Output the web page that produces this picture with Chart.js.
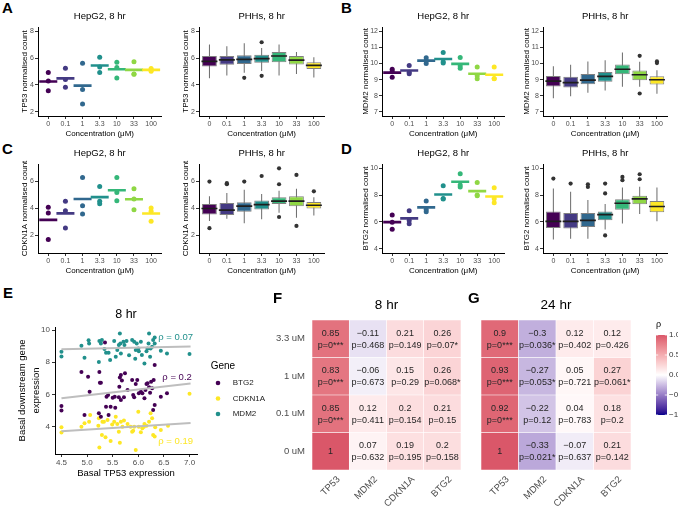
<!DOCTYPE html>
<html><head><meta charset="utf-8">
<script src="https://cdn.jsdelivr.net/npm/chart.js@4.4.1/dist/chart.umd.min.js"></script>
<style>
html,body{margin:0;padding:0;background:#fff;}
#wrap{position:relative;width:678px;height:509px;overflow:hidden;background:#fff;font-family:'Liberation Sans',Arial,Helvetica,sans-serif;}
canvas{position:absolute;}
.lab{position:absolute;font-weight:bold;font-size:15px;line-height:15px;color:#000;z-index:5;}
</style></head><body>
<div id="wrap">
<div class="lab" style="left:2px;top:0px">A</div>
<div class="lab" style="left:341px;top:0px">B</div>
<div class="lab" style="left:2px;top:141px">C</div>
<div class="lab" style="left:341px;top:141px">D</div>
<div class="lab" style="left:3px;top:285px">E</div>
<div class="lab" style="left:273px;top:290px">F</div>
<div class="lab" style="left:468px;top:290px">G</div>
</div>
<script>
// ---------------- DATA ----------------
const conc = ['0','0.1','1','3.3','10','33','100'];
const viridis7 = ['#440154','#443A83','#31688E','#21908C','#35B779','#8FD744','#FDE725'];

// HepG2 replicate points (highest / middle / lowest per concentration) and means
const tp53HepHi  = [4.92, 5.24, 5.61, 6.05, 5.68, 5.73, 5.22];
const tp53HepMid = [4.30, 4.40, 3.66, 5.34, 5.30, 4.82, 5.12];
const tp53HepLo  = [3.57, 3.83, 2.59, 4.93, 4.51, 4.80, 5.02];
const tp53HepMean= [4.26, 4.49, 3.95, 5.44, 5.17, 5.12, 5.12];

const mdm2HepHi  = [9.64, 9.87, 10.35, 10.68, 10.37, 9.78, 9.78];
const mdm2HepMid = [9.50, 9.45, 10.16, 10.10, 9.84, 9.23, 9.07];
const mdm2HepLo  = [9.15, 9.36, 10.00, 10.03, 9.70, 9.05, 9.05];
const mdm2HepMean= [9.43, 9.56, 10.17, 10.27, 9.97, 9.36, 9.30];

const cdknHepHi  = [4.09, 4.53, 6.29, 5.63, 6.29, 5.46, 4.04];
const cdknHepMid = [3.67, 3.84, 4.20, 4.53, 5.19, 4.70, 3.80];
const cdknHepLo  = [1.71, 2.56, 3.60, 4.36, 4.58, 3.91, 3.05];
const cdknHepMean= [3.16, 3.64, 4.70, 4.84, 5.35, 4.69, 3.63];

const btgHepHi   = [6.52, 6.84, 7.55, 8.68, 9.58, 8.92, 8.53];
const btgHepMid  = [5.98, 6.11, 6.93, 7.74, 8.75, 8.00, 7.72];
const btgHepLo   = [5.47, 5.86, 6.76, 7.70, 8.60, 7.95, 7.42];
const btgHepMean = [5.99, 6.27, 7.08, 8.04, 8.98, 8.29, 7.89];

// PHHs box statistics
const tp53PhhLo  = [4.50, 4.70, 4.90, 5.03, 4.70, 4.82, 4.55];
const tp53PhhQ1  = [5.38, 5.50, 5.55, 5.64, 5.69, 5.52, 5.18];
const tp53PhhMed = [5.75, 5.86, 5.90, 5.95, 6.15, 5.85, 5.45];
const tp53PhhQ3  = [6.15, 6.15, 6.20, 6.25, 6.45, 6.15, 5.69];
const tp53PhhHi  = [7.00, 6.88, 7.10, 6.75, 7.00, 6.45, 6.06];
const tp53PhhOut = [[], [], [4.53], [7.17, 4.68], [], [], []];

const mdm2PhhLo  = [7.85, 7.97, 8.18, 8.32, 8.55, 8.55, 8.12];
const mdm2PhhQ1  = [8.57, 8.51, 8.71, 8.87, 9.33, 8.96, 8.70];
const mdm2PhhMed = [8.90, 8.81, 8.97, 9.20, 9.64, 9.30, 8.99];
const mdm2PhhQ3  = [9.22, 9.18, 9.35, 9.47, 9.94, 9.56, 9.20];
const mdm2PhhHi  = [9.83, 9.92, 10.12, 10.20, 10.68, 10.10, 9.57];
const mdm2PhhOut = [[], [], [], [], [], [10.47, 8.14], [10.12, 10.02]];

const cdknPhhLo  = [3.07, 3.24, 2.90, 3.20, 3.68, 3.32, 3.49];
const cdknPhhQ1  = [3.56, 3.51, 3.76, 3.93, 4.34, 4.17, 4.00];
const cdknPhhMed = [4.00, 3.88, 4.17, 4.29, 4.54, 4.54, 4.24];
const cdknPhhQ3  = [4.34, 4.41, 4.46, 4.59, 4.83, 4.90, 4.49];
const cdknPhhHi  = [4.90, 5.15, 5.39, 5.07, 5.32, 5.46, 4.83];
const cdknPhhOut = [[6.00, 2.54], [5.88, 5.80], [6.00], [6.41], [6.98, 5.80, 3.37], [6.49, 2.71], [5.27]];

const btgPhhLo   = [4.71, 4.76, 4.76, 5.44, 5.88, 6.59, 6.05];
const btgPhhQ1   = [5.56, 5.51, 5.63, 6.12, 6.90, 7.32, 6.73];
const btgPhhMed  = [6.05, 6.05, 6.12, 6.54, 7.39, 7.71, 7.15];
const btgPhhQ3   = [6.78, 6.66, 6.66, 6.78, 7.68, 7.95, 7.56];
const btgPhhHi   = [8.49, 8.24, 7.63, 7.34, 8.56, 8.61, 8.56];
const btgPhhOut  = [[9.22], [8.85], [8.80, 8.60], [8.85, 8.12, 5.00], [9.34, 9.10], [9.54, 9.17], []];

// Panel E scatter
const btg2X = [4.50,4.50,4.89,5.02,5.05,4.95,5.24,5.25,5.27,5.23,5.35,5.38,5.41,5.37,5.46,5.55,5.50,5.54,5.63,5.64,5.66,5.68,5.74,5.72,5.62,5.66,5.79,5.88,5.90,5.92,5.95,5.98,6.05,6.08,6.12,6.14,6.18,6.25,6.27,6.30,6.29,6.32,6.32,6.44,6.56,6.16,6.21,6.23,6.01,5.27,5.42];
const btg2Y = [5.28,5.00,7.39,7.10,6.17,4.72,7.39,6.73,6.73,4.83,9.23,5.86,5.97,5.24,5.24,5.18,5.80,5.86,6.48,7.06,7.21,6.86,7.31,5.82,5.82,5.66,6.28,6.90,5.97,5.82,6.65,6.90,6.17,6.07,5.76,6.28,6.69,6.79,6.38,6.90,5.03,5.34,7.83,5.86,6.07,6.65,6.44,6.10,6.07,4.62,4.72];
const cdknX = [4.50,4.50,4.89,4.95,5.04,5.06,5.23,5.22,5.24,5.29,5.36,5.33,5.40,5.46,5.53,5.56,5.59,5.64,5.66,5.69,5.72,5.79,5.85,5.90,5.95,6.00,6.01,6.05,6.08,6.12,6.16,6.21,6.24,6.27,6.29,6.32,6.33,6.44,6.58,7.00,5.92,5.88,6.11,5.62,5.49,5.30];
const cdknY = [3.96,3.63,4.00,4.21,4.31,4.72,4.52,4.06,2.70,3.48,3.34,4.31,4.41,3.10,4.31,4.62,4.17,3.00,4.31,4.00,4.38,4.17,4.00,3.75,2.55,4.93,4.00,3.65,3.90,4.17,4.06,4.31,4.83,4.52,3.48,3.38,3.96,3.79,4.06,6.05,4.00,3.69,4.00,3.69,4.14,4.31];
const mdm2X = [4.50,4.50,4.89,4.95,5.03,5.04,5.23,5.24,5.29,5.27,5.34,5.37,5.42,5.45,5.53,5.56,5.59,5.62,5.64,5.65,5.66,5.71,5.73,5.77,5.82,5.88,5.92,5.94,5.97,6.00,6.01,6.05,6.07,6.12,6.16,6.20,6.21,6.24,6.27,6.29,6.32,6.32,6.44,6.56,7.00,5.95,6.18,6.23];
const mdm2Y = [8.65,8.35,9.03,8.28,9.36,9.17,8.01,9.32,9.38,9.17,8.82,8.59,8.59,8.14,9.32,8.34,8.76,9.07,9.79,9.17,8.55,9.28,9.07,9.32,8.43,9.38,9.28,8.22,9.17,8.86,8.68,9.28,8.45,7.93,8.68,9.17,9.79,8.86,8.97,9.38,9.17,9.54,8.72,8.55,8.51,8.76,8.86,8.34];
const fitX    = [4.50, 7.02];
const btg2Fit = [5.76, 6.68];
const cdknFit = [3.72, 4.22];
const mdm2Fit = [8.80, 8.98];
const rhoText = ['\u03C1 = 0.2', '\u03C1 = 0.19', '\u03C1 = 0.07'];
const rhoTextX = [6.47, 6.39, 6.39];
const rhoTextY = [7.05, 3.07, 9.57];

// Panels F and G heatmaps (rows bottom -> top)
const genes = ['TP53','MDM2','CDKN1A','BTG2'];
const doses = ['0 uM','0.1 uM','1 uM','3.3 uM'];
const rho8h  = [[1, 0.07, 0.19, 0.2], [0.85, 0.12, 0.2, 0.21], [0.83, -0.06, 0.15, 0.26], [0.85, -0.11, 0.21, 0.26]];
const p8h    = [['', '0.632', '0.195', '0.158'], ['0***', '0.411', '0.154', '0.15'], ['0***', '0.673', '0.29', '0.068*'], ['0***', '0.468', '0.149', '0.07*']];
const rho24h = [[1, -0.33, -0.07, 0.21], [0.92, -0.22, 0.04, 0.18], [0.93, -0.27, 0.05, 0.27], [0.9, -0.3, 0.12, 0.12]];
const p24h   = [['', '0.021*', '0.637', '0.142'], ['0***', '0.12', '0.783', '0.2'], ['0***', '0.053*', '0.721', '0.061*'], ['0***', '0.036*', '0.402', '0.426']];
const cbTicks = [1.0, 0.5, 0.0, -0.5, -1.0];

// ---------------- STYLE / HELPERS ----------------
const FONT = "'Liberation Sans', Arial, Helvetica, sans-serif";
Chart.defaults.font.family = FONT;
const wrap = document.getElementById('wrap');
function mkCanvas(x, y, w, h) {
  const c = document.createElement('canvas');
  c.width = w; c.height = h;
  c.style.left = x + 'px'; c.style.top = y + 'px';
  c.style.width = w + 'px'; c.style.height = h + 'px';
  wrap.appendChild(c);
  return c;
}
const minus = s => s.replace('-', '\u2212');

// colour scale (Lab interpolation through white)
function hexRgb(h){ h=h.replace('#',''); return [0,2,4].map(i=>parseInt(h.substr(i,2),16)); }
function s2l(c){ c/=255; return c<=0.04045 ? c/12.92 : Math.pow((c+0.055)/1.055,2.4); }
function l2s(c){ c = c<=0.0031308 ? 12.92*c : 1.055*Math.pow(c,1/2.4)-0.055; return Math.round(Math.max(0,Math.min(1,c))*255); }
function toLab(rgb){ const [R,G,B]=rgb.map(s2l);
  const X=(0.4124*R+0.3576*G+0.1805*B)/0.95047, Y=0.2126*R+0.7152*G+0.0722*B, Z=(0.0193*R+0.1192*G+0.9505*B)/1.08883;
  const f=t=> t>0.008856 ? Math.cbrt(t) : 7.787*t+16/116;
  const fx=f(X), fy=f(Y), fz=f(Z); return [116*fy-16, 500*(fx-fy), 200*(fy-fz)]; }
function fromLab([L,a,b]){ const fy=(L+16)/116, fx=fy+a/500, fz=fy-b/200;
  const fi=t=> t*t*t>0.008856 ? t*t*t : (t-16/116)/7.787;
  const X=fi(fx)*0.95047, Y=fi(fy), Z=fi(fz)*1.08883;
  return [l2s(3.2406*X-1.5372*Y-0.4986*Z), l2s(-0.9689*X+1.8758*Y+0.0415*Z), l2s(0.0557*X-0.2040*Y+1.0570*Z)]; }
const LAB_W = toLab([255,255,255]), LAB_HI = toLab(hexRgb('#DA5769')), LAB_LO = toLab(hexRgb('#00008B'));
function rhoColor(v){ const t=Math.min(1,Math.abs(v)); const e = v>=0 ? LAB_HI : LAB_LO;
  const c = fromLab(LAB_W.map((w,i)=>w+(e[i]-w)*t)); return `rgb(${c[0]},${c[1]},${c[2]})`; }

const xy = a => a.map((y,i)=>({x:i, y}));

// ---------------- ROW PANELS (A-D) ----------------
function rowChart(o) {
  const cL = o.plotL - o.yw, cT = o.rowTop, cR = o.plotR, cB = o.rowTop + 134;
  const cv = mkCanvas(cL, cT, cR - cL, cB - cT);
  new Chart(cv, {
    type: o.type,
    data: { datasets: o.datasets },
    options: {
      responsive:false, animation:false, events:[],
      layout:{ padding:0 },
      plugins:{ legend:{display:false}, tooltip:{enabled:false},
        title:{ display:true, text:o.title, fullSize:false, color:'#000', font:{size:9.5, weight:'normal'}, padding:{top:5.8, bottom:4.8} } },
      scales:{
        x:{ type:'linear', min:-0.6, max:6.6, offset:false,
            afterBuildTicks: s => { s.ticks = conc.map((_,i)=>({value:i})); },
            ticks:{ callback: v => conc[v], font:{size:7}, color:'#4D4D4D', padding:1.3, maxRotation:0, autoSkip:false },
            grid:{ display:true, drawOnChartArea:false, drawTicks:true, tickLength:3, color:'#333', offset:false },
            border:{ display:true, color:'#000', width:1 },
            title:{ display:true, text:'Concentration (\u03BCM)', font:{size:8}, color:'#000', padding:0 },
            afterFit: s => { s.height = 23; } },
        y:{ type:'linear', min:o.yMin, max:o.yMax,
            afterBuildTicks: s => { s.ticks = o.yTicks.map(v=>({value:v})); },
            ticks:{ font:{size:7}, color:'#4D4D4D', padding:1 },
            grid:{ display:true, drawOnChartArea:false, drawTicks:true, tickLength:3, color:'#333' },
            border:{ display:true, color:'#000', width:1 },
            title:{ display:true, text:o.yTitle, font:{size:8}, color:'#000', padding:{top:2.2, bottom:0} },
            afterFit: s => { s.width = o.yw; } }
      }
    }
  });
}
function hepSets(hi, mid, lo, mean) {
  const pt = a => ({ data: xy(a), pointRadius:2.5, backgroundColor:viridis7, pointBackgroundColor:viridis7, pointBorderWidth:0 });
  return [
    { data: xy(mean), pointStyle:'line', pointRadius:9, borderColor:viridis7, pointBorderColor:viridis7, pointBorderWidth:2.6 },
    pt(hi), pt(mid), pt(lo)
  ];
}
function boxSets(lo, q1, med, q3, hi, out) {
  return [
    { type:'scatter', order:0, data: out.flatMap((a,i)=>a.map(v=>({x:i, y:v}))), pointRadius:2.1, backgroundColor:'#333', pointBackgroundColor:'#333', pointBorderWidth:0 },
    { type:'scatter', order:1, data: xy(med), pointStyle:'line', pointRadius:8, borderColor:'#1e1e1e', pointBorderColor:'#1e1e1e', pointBorderWidth:1.7 },
    { type:'bar', order:2, data: q1.map((v,i)=>({x:i, y:[v, q3[i]]})), backgroundColor:viridis7, borderColor:'#808080', borderWidth:1, borderSkipped:false, barPercentage:0.85, categoryPercentage:1, grouped:false },
    { type:'bar', order:3, data: lo.map((v,i)=>({x:i, y:[v, hi[i]]})), backgroundColor:'#6a6a6a', borderWidth:0, maxBarThickness:1, grouped:false }
  ];
}

rowChart({ type:'scatter', plotL:38, plotR:173, yw:20, rowTop:5, title:'HepG2, 8 hr', yTitle:'TP53 normalised count', yMin:1.7, yMax:8.3, yTicks:[2,4,6,8], datasets: hepSets(tp53HepHi, tp53HepMid, tp53HepLo, tp53HepMean) });
rowChart({ type:'bar', plotL:199, plotR:334, yw:20, rowTop:5, title:'PHHs, 8 hr', yTitle:'TP53 normalised count', yMin:1.7, yMax:8.3, yTicks:[2,4,6,8], datasets: boxSets(tp53PhhLo, tp53PhhQ1, tp53PhhMed, tp53PhhQ3, tp53PhhHi, tp53PhhOut) });
rowChart({ type:'scatter', plotL:382, plotR:516, yw:23, rowTop:5, title:'HepG2, 8 hr', yTitle:'MDM2 normalised count', yMin:6.75, yMax:12.25, yTicks:[7,8,9,10,11,12], datasets: hepSets(mdm2HepHi, mdm2HepMid, mdm2HepLo, mdm2HepMean) });
rowChart({ type:'bar', plotL:543, plotR:677, yw:23, rowTop:5, title:'PHHs, 8 hr', yTitle:'MDM2 normalised count', yMin:6.75, yMax:12.25, yTicks:[7,8,9,10,11,12], datasets: boxSets(mdm2PhhLo, mdm2PhhQ1, mdm2PhhMed, mdm2PhhQ3, mdm2PhhHi, mdm2PhhOut) });
rowChart({ type:'scatter', plotL:38, plotR:173, yw:20, rowTop:142, title:'HepG2, 8 hr', yTitle:'CDKN1A normalised count', yMin:0.7, yMax:7.3, yTicks:[2,4,6], datasets: hepSets(cdknHepHi, cdknHepMid, cdknHepLo, cdknHepMean) });
rowChart({ type:'bar', plotL:199, plotR:334, yw:20, rowTop:142, title:'PHHs, 8 hr', yTitle:'CDKN1A normalised count', yMin:0.7, yMax:7.3, yTicks:[2,4,6], datasets: boxSets(cdknPhhLo, cdknPhhQ1, cdknPhhMed, cdknPhhQ3, cdknPhhHi, cdknPhhOut) });
rowChart({ type:'scatter', plotL:382, plotR:516, yw:23, rowTop:142, title:'HepG2, 8 hr', yTitle:'BTG2 normalised count', yMin:3.7, yMax:10.3, yTicks:[4,6,8,10], datasets: hepSets(btgHepHi, btgHepMid, btgHepLo, btgHepMean) });
rowChart({ type:'bar', plotL:543, plotR:677, yw:23, rowTop:142, title:'PHHs, 8 hr', yTitle:'BTG2 normalised count', yMin:3.7, yMax:10.3, yTicks:[4,6,8,10], datasets: boxSets(btgPhhLo, btgPhhQ1, btgPhhMed, btgPhhQ3, btgPhhHi, btgPhhOut) });

// ---------------- PANEL E ----------------
const geneLegend = { id:'geneLegend', afterDraw(chart, args, o) {
  const ctx = chart.ctx; ctx.save();
  ctx.textBaseline = 'middle'; ctx.textAlign = 'left';
  ctx.fillStyle = '#000'; ctx.font = `10px ${FONT}`;
  ctx.fillText('Gene', o.x, o.y);
  chart.data.datasets.filter(d => d.gene).forEach((d, i) => {
    const y = o.y + o.y0 + i * o.dy;
    ctx.beginPath(); ctx.arc(o.x + o.dotX, y, 2.3, 0, 2 * Math.PI);
    ctx.fillStyle = d.backgroundColor; ctx.fill();
    ctx.fillStyle = '#1a1a1a'; ctx.font = `8px ${FONT}`;
    ctx.fillText(d.label, o.x + o.textX, y);
  });
  ctx.restore();
}};
const rhoLabels = { id:'rhoLabels', afterDatasetsDraw(chart) {
  const ctx = chart.ctx, sx = chart.scales.x, sy = chart.scales.y;
  const genesDs = chart.data.datasets.filter(d => d.gene);
  ctx.save(); ctx.font = `9.5px ${FONT}`; ctx.textBaseline = 'middle'; ctx.textAlign = 'left';
  rhoText.forEach((t, i) => { ctx.fillStyle = genesDs[i].backgroundColor;
    ctx.fillText(t, sx.getPixelForValue(rhoTextX[i]), sy.getPixelForValue(rhoTextY[i])); });
  ctx.restore();
}};
{
  const cv = mkCanvas(15, 300, 255, 179);
  const pts = (X, Y) => X.map((x,i)=>({x, y:Y[i]}));
  const fit = Y => fitX.map((x,i)=>({x, y:Y[i]}));
  const lineDs = Y => ({ data: fit(Y), showLine:true, borderColor:'#BEBEBE', borderWidth:2, pointRadius:0, order:0 });
  new Chart(cv, {
    type:'scatter',
    data:{ datasets:[
      { label:'BTG2', gene:true, data: pts(btg2X, btg2Y), backgroundColor:'#440154', pointRadius:2, pointBorderWidth:0, order:1 },
      { label:'CDKN1A', gene:true, data: pts(cdknX, cdknY), backgroundColor:'#FDE725', pointRadius:2, pointBorderWidth:0, order:1 },
      { label:'MDM2', gene:true, data: pts(mdm2X, mdm2Y), backgroundColor:'#21908C', pointRadius:2, pointBorderWidth:0, order:1 },
      lineDs(btg2Fit), lineDs(cdknFit), lineDs(mdm2Fit)
    ]},
    options:{
      responsive:false, animation:false, events:[],
      layout:{ padding:{ left:0, top:0, bottom:0, right:73 } },
      plugins:{ legend:{display:false}, tooltip:{enabled:false},
        title:{ display:true, text:'8 hr', fullSize:false, color:'#000', font:{size:12.5, weight:'normal'}, padding:{top:7.5, bottom:4.5} },
        geneLegend:{ x:195.7, y:66, y0:17, dy:15.5, dotX:7.3, textX:22 } },
      scales:{
        x:{ type:'linear', min:4.374, max:7.146,
            afterBuildTicks: s => { s.ticks = [4.5,5.0,5.5,6.0,6.5,7.0].map(v=>({value:v})); },
            ticks:{ callback: v => v.toFixed(1), font:{size:8}, color:'#4D4D4D', padding:1, maxRotation:0 },
            grid:{ display:true, drawOnChartArea:false, drawTicks:true, tickLength:3, color:'#333' },
            border:{ display:true, color:'#000', width:1 },
            title:{ display:true, text:'Basal TP53 expression', font:{size:9.5}, color:'#000', padding:0 },
            afterFit: s => { s.height = 25; } },
        y:{ type:'linear', min:2.3, max:10.19,
            afterBuildTicks: s => { s.ticks = [4,6,8,10].map(v=>({value:v})); },
            ticks:{ font:{size:8}, color:'#4D4D4D', padding:2 },
            grid:{ display:true, drawOnChartArea:false, drawTicks:true, tickLength:3, color:'#333' },
            border:{ display:true, color:'#000', width:1 },
            title:{ display:true, text:['Basal downstream gene','expression'], font:{size:9.5, lineHeight:1.4}, color:'#000', padding:{top:1.05, bottom:0} },
            afterFit: s => { s.width = 40; } }
      }
    },
    plugins:[geneLegend, rhoLabels]
  });
}

// ---------------- PANELS F, G ----------------
const cellText = { id:'cellText', afterDatasetsDraw(chart) {
  const ctx = chart.ctx; ctx.save();
  ctx.font = `9px ${FONT}`; ctx.fillStyle = '#262626'; ctx.textAlign = 'center'; ctx.textBaseline = 'middle';
  chart.data.datasets.forEach((ds, di) => {
    chart.getDatasetMeta(di).data.forEach((el, i) => {
      const cx = el.x, cy = (el.y + el.base) / 2;
      const r = ds.rho[i], p = ds.p[i];
      const rt = minus(String(r));
      if (p) { ctx.fillText(rt, cx, cy - 5.5); ctx.fillText('p=' + p, cx, cy + 6.5); }
      else ctx.fillText(rt, cx, cy);
    });
  });
  ctx.restore();
}};
const colorBar = { id:'colorBar', afterDraw(chart, args, o) {
  if (!o.show) return;
  const ctx = chart.ctx; ctx.save();
  const g = ctx.createLinearGradient(0, o.y1, 0, o.y0);
  for (let k = 0; k <= 40; k++) { const v = -1 + k * 0.05; g.addColorStop(k / 40, rhoColor(v)); }
  ctx.fillStyle = g; ctx.fillRect(o.x, o.y0, o.w, o.y1 - o.y0);
  ctx.font = `8px ${FONT}`; ctx.textAlign = 'left'; ctx.textBaseline = 'middle';
  cbTicks.forEach(v => {
    const y = o.y1 - (v + 1) / 2 * (o.y1 - o.y0);
    ctx.strokeStyle = '#fff'; ctx.lineWidth = 0.8;
    ctx.beginPath(); ctx.moveTo(o.x, y); ctx.lineTo(o.x + 2.2, y); ctx.moveTo(o.x + o.w - 2.2, y); ctx.lineTo(o.x + o.w, y); ctx.stroke();
    ctx.fillStyle = '#333'; ctx.fillText(minus(v.toFixed(1)), o.x + o.w + 2, y);
  });
  ctx.fillStyle = '#000'; ctx.font = `9px ${FONT}`;
  ctx.fillText('\u03C1', o.x, o.y0 - 10);
  ctx.restore();
}};
function heatChart(o) {
  const cv = mkCanvas(o.cL, 290, o.cW, 219);
  new Chart(cv, {
    type:'bar',
    data:{ labels: genes, datasets: doses.map((d, r) => ({
      label:d, rho:o.rho[r], p:o.p[r], data: o.rho[r].map(() => 1),
      backgroundColor: o.rho[r].map(rhoColor), borderColor:'rgba(255,255,255,0.75)', borderWidth:0.6, borderSkipped:false,
      barPercentage:1, categoryPercentage:1 })) },
    options:{
      responsive:false, animation:false, events:[],
      layout:{ padding:{ left:0, top:0, bottom:0, right:o.padR } },
      plugins:{ legend:{display:false}, tooltip:{enabled:false},
        title:{ display:true, text:o.title, fullSize:false, color:'#000', font:{size:13.5, weight:'normal'}, padding:{top:6.9, bottom:6.9} },
        colorBar:{ show:!!o.cb, x:206, w:11, y0:45, y1:125 } },
      scales:{
        x:{ type:'category', stacked:true, offset:true,
            ticks:{ font:{size:9.5}, color:'#4D4D4D', minRotation:45, maxRotation:45, padding:4, labelOffset:8, autoSkip:false },
            grid:{ display:false, drawTicks:false }, border:{ display:false },
            afterFit: s => { s.height = 39; } },
        y:{ type:'linear', stacked:true, min:0, max:4,
            afterBuildTicks: s => { s.ticks = doses.map((_, i) => ({value:i + 0.5})); },
            ticks:{ display:o.showY, callback: v => doses[Math.floor(v)], font:{size:9.5}, color:'#4D4D4D', padding:7 },
            grid:{ display:false, drawTicks:false }, border:{ display:false },
            afterFit: s => { s.width = o.yw; } }
      }
    },
    plugins:[cellText, colorBar]
  });
}
heatChart({ cL:270, cW:200, yw:42, padR:9, title:'8 hr', rho:rho8h, p:p8h, showY:true, cb:false });
heatChart({ cL:450, cW:228, yw:31, padR:47, title:'24 hr', rho:rho24h, p:p24h, showY:false, cb:true });
</script>
</body></html>
